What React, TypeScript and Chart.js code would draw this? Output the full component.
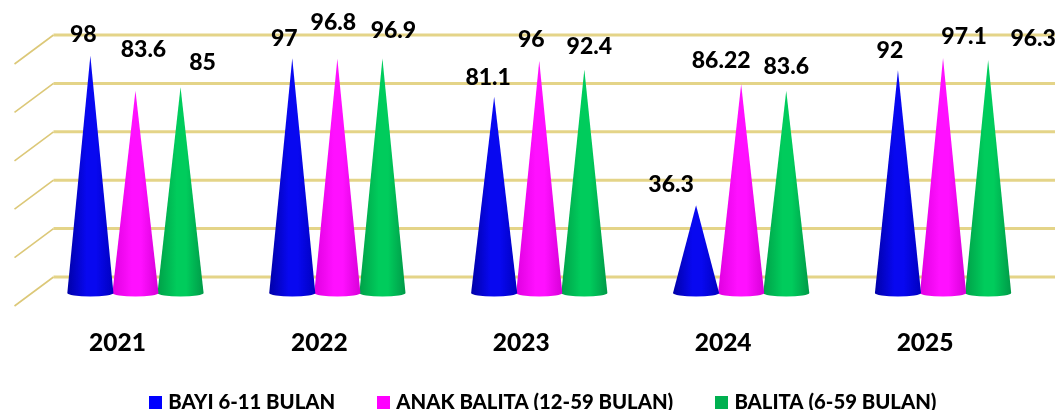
import React, { useEffect, useRef } from "react";
import { Chart, registerables } from "chart.js";

Chart.register(...registerables);

const categories = ["2021", "2022", "2023", "2024", "2025"];
const seriesNames = ["BAYI 6-11 BULAN", "ANAK BALITA (12-59 BULAN)", "BALITA (6-59 BULAN)"];
const bayi = [98, 97, 81.1, 36.3, 92];
const anakBalita = [83.6, 96.8, 96, 86.22, 97.1];
const balita = [85, 96.9, 92.4, 83.6, 96.3];
const valueText = [
  ["98", "97", "81.1", "36.3", "92"],
  ["83.6", "96.8", "96", "86.22", "97.1"],
  ["85", "96.9", "92.4", "83.6", "96.3"],
];

// Label nudges relative to each cone's tip (layout only)
const labelNudge = [
  [[-7, -21], [-8, -20], [-6, -19], [-25, -21], [-8, -20]],
  [[8, -41], [-4, -36], [-8, -21], [-20, -24], [21, -21]],
  [[22, -25], [11, -28], [5, -23], [0, -24], [45, -21]],
];

const shades = [
  { edge: "#0000a8", mid: "#0808f0", dark: "#0000c0", solid: "#0000ff" },
  { edge: "#e000e0", mid: "#ff10ff", dark: "#d800d8", solid: "#ff00ff" },
  { edge: "#00a048", mid: "#00cc5c", dark: "#009a48", solid: "#00b050" },
];

const FONT = "Lato, 'Open Sans', sans-serif";

function swatch(color: string) {
  const c = document.createElement("canvas");
  c.width = 13;
  c.height = 13;
  const g = c.getContext("2d") as CanvasRenderingContext2D;
  g.fillStyle = color;
  g.fillRect(0, 0, 13, 13);
  return c;
}

const conePlugin = {
  id: "cones",
  afterLayout(chart: any) {
    chart.scales.x.bottom = 380;
    chart.legend.top += 13;
    chart.legend.left += 11;
  },
  beforeDatasetsDraw(chart: any) {
    const { ctx, chartArea, scales } = chart;
    ctx.save();
    for (const t of scales.y.ticks) {
      const y = scales.y.getPixelForValue(t.value);
      const by = y - 16;
      ctx.strokeStyle = "#e4d488";
      ctx.lineWidth = 3;
      ctx.beginPath();
      ctx.moveTo(chartArea.left + 19, by);
      ctx.lineTo(1055, by);
      ctx.stroke();
      ctx.strokeStyle = "#dcc878";
      ctx.lineWidth = 1.6;
      ctx.beginPath();
      ctx.moveTo(chartArea.left + 19, by);
      ctx.lineTo(chartArea.left - 20, y + 13);
      ctx.stroke();
    }
    ctx.restore();
  },
  beforeDatasetDraw(chart: any, args: any) {
    const { ctx } = chart;
    const shade = shades[args.index];
    const meta = args.meta;
    ctx.save();
    ctx.filter = "blur(0.6px)";
    for (const el of meta.data) {
      const half = el.width / 2 + 0.5;
      const base = el.base;
      const g = ctx.createLinearGradient(el.x - half, 0, el.x + half, 0);
      g.addColorStop(0, shade.edge);
      g.addColorStop(0.42, shade.mid);
      g.addColorStop(0.62, shade.mid);
      g.addColorStop(1, shade.dark);
      ctx.fillStyle = g;
      ctx.beginPath();
      ctx.moveTo(el.x, el.y);
      ctx.lineTo(el.x + half, base);
      ctx.ellipse(el.x, base, half, 3.5, 0, 0, Math.PI);
      ctx.closePath();
      ctx.fill();
    }
    ctx.restore();
    return false;
  },
  afterDatasetsDraw(chart: any) {
    const { ctx } = chart;
    ctx.save();
    ctx.fillStyle = "#000";
    ctx.font = `900 23px ${FONT}`;
    ctx.textAlign = "center";
    ctx.textBaseline = "middle";
    chart.data.datasets.forEach((_: any, i: number) => {
      chart.getDatasetMeta(i).data.forEach((el: any, j: number) => {
        const [dx, dy] = labelNudge[i][j];
        ctx.fillText(valueText[i][j], el.x + dx, el.y + dy);
      });
    });
    ctx.restore();
  },
};

export default function App() {
  const ref = useRef<HTMLCanvasElement>(null);
  useEffect(() => {
    document.body.style.margin = "0";
    document.body.style.background = "#fff";
    const values = [bayi, anakBalita, balita];
    const swatches = shades.map((s) => swatch(s.solid));
    const chart = new Chart(ref.current as HTMLCanvasElement, {
      type: "bar",
      data: {
        labels: categories,
        datasets: seriesNames.map((label, i) => ({
          label,
          data: values[i],
          backgroundColor: shades[i].solid,
          borderWidth: 0,
          barPercentage: 1,
          categoryPercentage: 0.67,
        })),
      },
      plugins: [conePlugin],
      options: {
        responsive: false,
        animation: false,
        layout: { padding: { top: 51, left: 34.5, right: 11, bottom: 4 } },
        scales: {
          x: {
            grid: { display: false },
            border: { display: false },
            ticks: {
              color: "#000",
              font: { family: FONT, size: 24.5, weight: "900" },
              labelOffset: -18,
              padding: 27,
              maxRotation: 0,
            },
            afterFit(scale: any) {
              const legendH = scale.chart.legend ? scale.chart.legend.height : 0;
              scale.height = 414 - 293 - legendH - 4;
            },
          },
          y: {
            display: false,
            min: 0,
            max: 100,
            ticks: { stepSize: 20 },
          },
        },
        plugins: {
          tooltip: { enabled: false },
          legend: {
            position: "bottom",
            onClick: () => {},
            labels: {
              color: "#000",
              font: { family: FONT, size: 20.3, weight: "900" },
              usePointStyle: true,
              pointStyleWidth: 5,
              boxHeight: 13,
              padding: 46,
              generateLabels(c: any) {
                const items = (Chart as any).defaults.plugins.legend.labels.generateLabels(c);
                items.forEach((it: any, i: number) => {
                  it.pointStyle = swatches[i];
                });
                return items;
              },
            },
          },
        },
      },
    } as any);
    return () => chart.destroy();
  }, []);
  return <canvas ref={ref} width={1055} height={414} style={{ display: "block" }} />;
}
